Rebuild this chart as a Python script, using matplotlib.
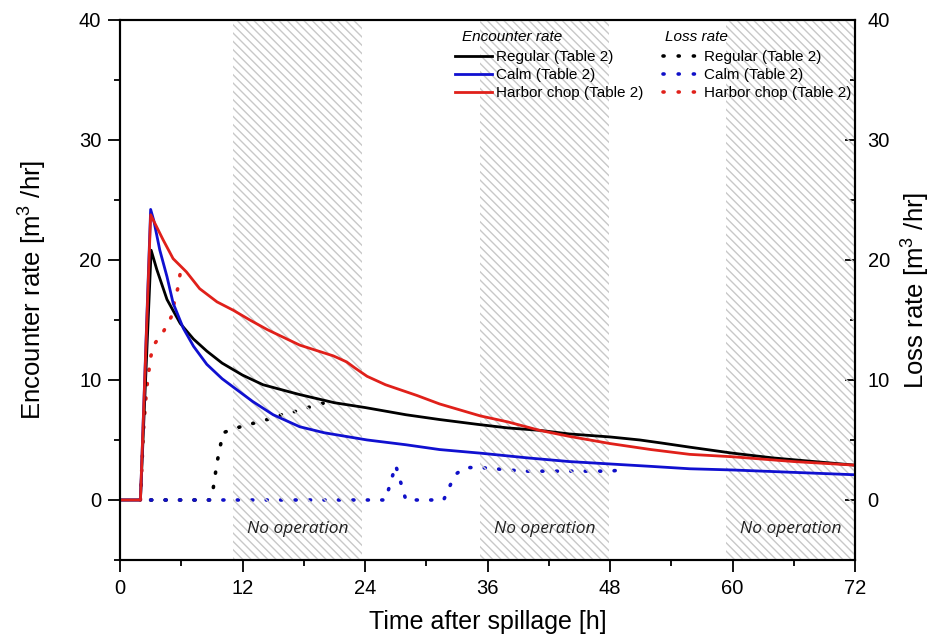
import matplotlib
matplotlib.use('Agg')
import matplotlib.pyplot as plt
from matplotlib.lines import Line2D
from matplotlib.ticker import MultipleLocator

plt.rcParams['font.family'] = ['Liberation Sans', 'DejaVu Sans']
plt.rcParams['mathtext.fontset'] = 'custom'
plt.rcParams['mathtext.rm'] = 'Liberation Sans'
plt.rcParams['hatch.linewidth'] = 1.0
plt.rcParams['hatch.color'] = '#c8c8c8'

# Encounter rate [m3/hr]
regular_t = [0, 2, 3.05, 3.6, 4.6, 5.9, 7.2, 8.5, 10, 12, 14, 17.5, 21, 24, 28, 31.3, 35, 38, 41.1, 44, 48, 50.9, 53, 55.8, 60, 64, 68, 72]
regular_y = [0, 0, 20.8, 19.2, 16.7, 14.7, 13.4, 12.4, 11.4, 10.4, 9.6, 8.8, 8.1, 7.7, 7.1, 6.7, 6.3, 6.0, 5.8, 5.5, 5.25, 5.0, 4.75, 4.4, 3.9, 3.5, 3.2, 2.9]

calm_t = [0, 2, 3.0, 3.3, 3.9, 4.6, 5.2, 6.2, 7.2, 8.5, 10, 11.1, 13, 15, 17.6, 20, 24.2, 28, 31.3, 35.3, 40, 44, 48, 52, 55.8, 60, 66, 72]
calm_y = [0, 0, 24.2, 23.3, 20.8, 18.6, 16.4, 14.3, 12.8, 11.3, 10.1, 9.4, 8.2, 7.1, 6.1, 5.6, 5.0, 4.6, 4.2, 3.9, 3.5, 3.2, 3.0, 2.8, 2.6, 2.5, 2.3, 2.1]

harbor_t = [0, 2, 3.0, 3.5, 4.2, 5.2, 6.5, 7.8, 9.5, 11.1, 12.7, 14.4, 17.6, 20.9, 22.2, 23, 24.2, 26, 29.1, 31.3, 35.3, 38, 41.1, 44, 48, 52, 55.8, 60, 66, 72]
harbor_y = [0, 0, 23.75, 22.9, 21.7, 20.1, 19.0, 17.6, 16.5, 15.8, 15.0, 14.2, 12.9, 12.0, 11.5, 11.0, 10.3, 9.6, 8.7, 8.0, 7.0, 6.5, 5.8, 5.3, 4.7, 4.2, 3.8, 3.6, 3.2, 2.9]

# Loss rate [m3/hr]
regular_loss_t = [3, 8.8, 9.1, 9.5, 9.8, 10.1, 11.4, 13.1, 14.4, 15.8, 17.3, 18.8, 20.5]
regular_loss_y = [0, 0, 0.8, 3.1, 4.4, 5.6, 6.0, 6.4, 6.7, 7.1, 7.4, 7.8, 8.2]

calm_loss_t = [3, 26, 27, 28, 31.7, 32.8, 33.8, 35.3, 39.5, 43.7, 48, 49.6]
calm_loss_y = [0, 0, 2.9, 0, 0, 2.1, 2.7, 2.7, 2.4, 2.4, 2.4, 2.55]

harbor_loss_t = [2, 2.3, 2.6, 3.0, 3.3, 4.3, 5.05, 5.3, 5.65, 5.9, 6.0]
harbor_loss_y = [0, 5.8, 9.2, 11.9, 12.9, 14.1, 15.3, 16.4, 17.6, 18.9, 19.3]

# no operation windows [h]
no_op_start = [11.1, 35.3, 59.4]
no_op_end = [23.7, 47.9, 72]

fig = plt.figure(figsize=(9.34, 6.44), dpi=100)
ax = fig.add_axes([0.1285, 0.1304, 0.787, 0.839])
ax2 = ax.twinx()

for s, e in zip(no_op_start, no_op_end):
    ax.axvspan(s, e, facecolor='none', edgecolor='#c8c8c8', hatch='\\\\\\\\', linewidth=0, zorder=0)
    ax.text((s + e) / 2, -2.45, 'No operation', ha='center', va='center',
            fontsize=12.5, style='italic', family=['Open Sans', 'DejaVu Sans'], color='#222222')

dot = (0, (0.3, 3.7))
ax2.plot(regular_loss_t, regular_loss_y, color='black', lw=2.6, ls=dot, dash_capstyle='round')
ax2.plot(harbor_loss_t, harbor_loss_y, color='#e0201a', lw=2.6, ls=dot, dash_capstyle='round')
ax2.plot(calm_loss_t, calm_loss_y, color='#1010c8', lw=2.6, ls=dot, dash_capstyle='round')

ax.plot(regular_t, regular_y, color='black', lw=2)
ax.plot(calm_t, calm_y, color='#1010d0', lw=2)
ax.plot(harbor_t, harbor_y, color='#e0201a', lw=2)

for a in (ax, ax2):
    a.set_xlim(0, 72)
    a.set_ylim(-5, 40)
    a.yaxis.set_major_locator(MultipleLocator(10))
    a.yaxis.set_minor_locator(MultipleLocator(5))
    for sp in a.spines.values():
        sp.set_linewidth(1.5)
ax.tick_params(which='major', direction='out', length=8.5, width=1.3, labelsize=14.5, pad=5)
ax.tick_params(which='minor', direction='out', length=4, width=1.3)
ax2.tick_params(which='major', direction='in', length=7, width=1.3, labelsize=14.5, pad=9)
ax2.tick_params(which='minor', direction='in', length=3.5, width=1.3)
ax.set_zorder(ax2.get_zorder() + 1)
ax.patch.set_visible(False)
ax.xaxis.set_major_locator(MultipleLocator(12))
ax.xaxis.set_minor_locator(MultipleLocator(6))

ax.set_xlabel('Time after spillage [h]', fontsize=18, labelpad=9)
ax.set_ylabel('Encounter rate [m$^3$ /hr]', fontsize=18.5, labelpad=22)
ax2.set_ylabel('Loss rate [m$^3$ /hr]', fontsize=18.5, labelpad=6)

ldot = (0, (0.3, 3.9))
handles = [
    Line2D([], [], color='black', lw=2),
    Line2D([], [], color='#1010d0', lw=2),
    Line2D([], [], color='#e0201a', lw=2),
    Line2D([], [], color='black', lw=2.6, ls=ldot, dash_capstyle='round'),
    Line2D([], [], color='#1010c8', lw=2.6, ls=ldot, dash_capstyle='round'),
    Line2D([], [], color='#e0201a', lw=2.6, ls=ldot, dash_capstyle='round'),
]
labels = ['Regular (Table 2)', 'Calm (Table 2)', 'Harbor chop (Table 2)'] * 2
ax.legend(handles, labels, ncol=2, loc='upper left', bbox_to_anchor=(0.456, 0.944),
          frameon=False, fontsize=11, handlelength=2.4, handletextpad=0.25,
          columnspacing=1.33, labelspacing=0.26, borderpad=0, borderaxespad=0)
ax.text(0.465, 0.968, 'Encounter rate', transform=ax.transAxes, fontsize=11,
        style='italic', va='center')
ax.text(0.7415, 0.968, 'Loss rate', transform=ax.transAxes, fontsize=11,
        style='italic', va='center')

fig.savefig('out.png', dpi=100)
